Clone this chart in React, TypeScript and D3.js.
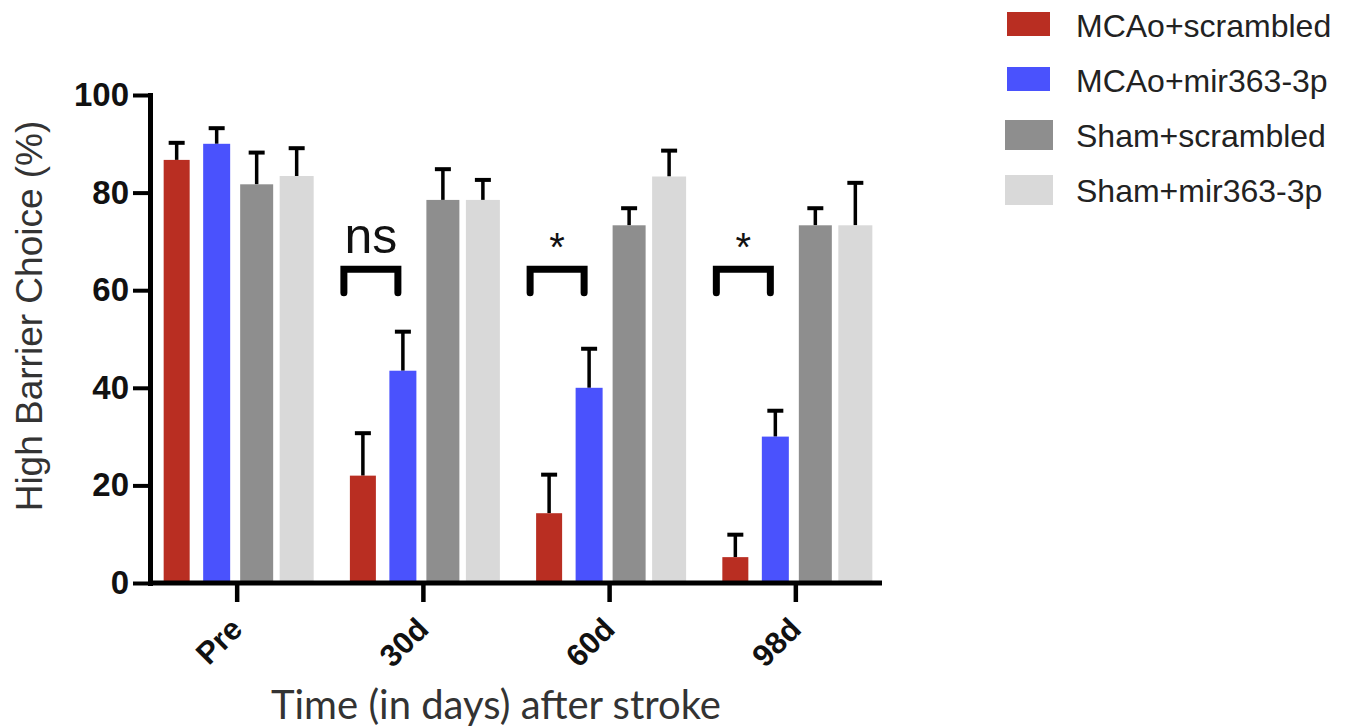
import React, { useEffect, useRef } from "react";
import * as d3 from "d3";

// categories / series
const timepoints = ["Pre", "30d", "60d", "98d"];
const groups = ["MCAo+scrambled", "MCAo+mir363-3p", "Sham+scrambled", "Sham+mir363-3p"];

// means (%) per timepoint
const mcaoScrambled = [86.7, 22.0, 14.3, 5.3];
const mcaoMir = [90.0, 43.5, 40.0, 30.0];
const shamScrambled = [81.7, 78.5, 73.3, 73.3];
const shamMir = [83.4, 78.5, 83.3, 73.3];

// SEM (upper error bar only)
const mcaoScrambledErr = [3.5, 8.7, 7.9, 4.6];
const mcaoMirErr = [3.2, 8.0, 8.0, 5.3];
const shamScrambledErr = [6.5, 6.3, 3.5, 3.5];
const shamMirErr = [5.7, 4.1, 5.3, 8.7];

const yTicks = [0, 20, 40, 60, 80, 100];

// significance brackets between the two MCAo groups
const sigLabels = [
  { at: "30d", label: "ns" },
  { at: "60d", label: "*" },
  { at: "98d", label: "*" },
];
const bracketLevel = 64.3;
const bracketLeg = 4.8;

const colors = ["#b92e22", "#4a52fd", "#8e8e8e", "#d9d9d9"];
const barWidths = [26, 27, 33, 34];
const helv = "Liberation Sans, Arial, sans-serif";

function BarChart() {
  const ref = useRef<SVGSVGElement>(null);

  useEffect(() => {
    const svg = d3.select(ref.current);
    svg.selectAll("*").remove();

    const means = [mcaoScrambled, mcaoMir, shamScrambled, shamMir];
    const errs = [mcaoScrambledErr, mcaoMirErr, shamScrambledErr, shamMirErr];

    const x = d3.scalePoint().domain(timepoints).range([151, 881]).padding(0.46);
    const inner = d3.scaleBand().domain(groups).range([-80, 80]);
    const y = d3.scaleLinear().domain([0, 100]).range([583, 95]);

    const rows = [];
    groups.forEach((g, gi) => {
      timepoints.forEach((t, ti) => {
        rows.push({ g, gi, t, v: means[gi][ti], e: errs[gi][ti] });
      });
    });
    const cx = (d) => x(d.t) + inner(d.g) + inner.bandwidth() / 2;

    // error bars (drawn first so bars cover the stem base)
    const eb = svg.append("g").attr("stroke", "#000").attr("stroke-width", 3.5);
    eb.selectAll("line.stem")
      .data(rows)
      .enter()
      .append("line")
      .attr("x1", cx)
      .attr("x2", cx)
      .attr("y1", (d) => y(d.v))
      .attr("y2", (d) => y(d.v + d.e));
    eb.selectAll("line.cap")
      .data(rows)
      .enter()
      .append("line")
      .attr("stroke-width", 4)
      .attr("x1", (d) => cx(d) - 8)
      .attr("x2", (d) => cx(d) + 8)
      .attr("y1", (d) => y(d.v + d.e))
      .attr("y2", (d) => y(d.v + d.e));

    svg
      .append("g")
      .selectAll("rect")
      .data(rows)
      .enter()
      .append("rect")
      .attr("x", (d) => cx(d) - barWidths[d.gi] / 2)
      .attr("width", (d) => barWidths[d.gi])
      .attr("y", (d) => y(d.v))
      .attr("height", (d) => y(0) - y(d.v))
      .attr("fill", (d) => colors[d.gi]);

    // y axis
    const yAxis = svg
      .append("g")
      .attr("transform", "translate(150,0)")
      .call(d3.axisLeft(y).tickValues(yTicks).tickSize(17).tickPadding(4).tickSizeOuter(0));
    yAxis.select(".domain").attr("stroke-width", 5).attr("stroke-linecap", "square");
    yAxis.selectAll(".tick line").attr("stroke-width", 4);
    yAxis
      .selectAll(".tick text")
      .attr("font-family", helv)
      .attr("font-weight", "bold")
      .attr("font-size", 33)
      .attr("fill", "#111");

    // x axis
    const xAxis = svg
      .append("g")
      .attr("transform", "translate(0,583)")
      .call(d3.axisBottom(x).tickSize(19).tickSizeOuter(0));
    xAxis.select(".domain").attr("d", "M150,0H882").attr("stroke-width", 5);
    xAxis.selectAll(".tick line").attr("stroke-width", 4.5);
    xAxis
      .selectAll(".tick text")
      .attr("font-family", helv)
      .attr("font-weight", "bold")
      .attr("font-size", 31)
      .attr("fill", "#111")
      .attr("text-anchor", "end")
      .attr("dy", 0)
      .attr("x", 0)
      .attr("y", 0)
      .attr("transform", "translate(7,48) rotate(-45)");

    // significance brackets
    const redC = (t) => x(t) + inner(groups[0]) + inner.bandwidth() / 2;
    const blueC = (t) => x(t) + inner(groups[1]) + inner.bandwidth() / 2;
    const bx1 = (t) => redC(t) - 19;
    const bx2 = (t) => blueC(t) - 5;
    const sig = svg.append("g");
    sig
      .selectAll("path")
      .data(sigLabels)
      .enter()
      .append("path")
      .attr("fill", "none")
      .attr("stroke", "#000")
      .attr("stroke-width", 7)
      .attr("stroke-linecap", "round")
      .attr("stroke-linejoin", "miter")
      .attr("d", (d) => {
        const yt = y(bracketLevel);
        const yb = y(bracketLevel - bracketLeg);
        return `M${bx1(d.at)},${yb}V${yt}H${bx2(d.at)}V${yb}`;
      });
    sig
      .selectAll("text")
      .data(sigLabels)
      .enter()
      .append("text")
      .attr("x", (d) => (bx1(d.at) + bx2(d.at)) / 2)
      .attr("y", (d) => (d.label === "ns" ? y(bracketLevel) - 16 : y(bracketLevel) - 8))
      .attr("text-anchor", "middle")
      .attr("font-family", helv)
      .attr("font-size", (d) => (d.label === "ns" ? 50 : 40))
      .attr("fill", "#111")
      .text((d) => d.label);

    // axis titles
    svg
      .append("text")
      .attr("transform", "translate(42,316) rotate(-90)")
      .attr("text-anchor", "middle")
      .attr("font-family", helv)
      .attr("font-size", 37)
      .attr("fill", "#333")
      .text("High Barrier Choice (%)");

    svg
      .append("text")
      .attr("x", 496)
      .attr("y", 719)
      .attr("text-anchor", "middle")
      .attr("font-family", "Lato, Open Sans, sans-serif")
      .attr("font-size", 40)
      .attr("fill", "#333")
      .text("Time (in days) after stroke");

    // legend
    const legend = svg
      .append("g")
      .selectAll("g")
      .data(groups)
      .enter()
      .append("g")
      .attr("transform", (d, i) => `translate(1006, ${26 + i * 55})`);
    legend
      .append("rect")
      .attr("x", (d, i) => (i < 2 ? 1 : -1))
      .attr("y", (d, i) => (i < 2 ? -14 : -16))
      .attr("width", (d, i) => (i < 2 ? 43 : 48))
      .attr("height", (d, i) => (i < 2 ? 24 : 30))
      .attr("fill", (d, i) => colors[i]);
    legend
      .append("text")
      .attr("x", 70)
      .attr("dy", "0.35em")
      .attr("font-family", helv)
      .attr("font-size", 32)
      .attr("fill", "#222")
      .text((d) => d);
  }, []);

  return (
    <svg
      ref={ref}
      width={1353}
      height={728}
      style={{ position: "absolute", left: 0, top: 0, background: "#fff" }}
    />
  );
}

export default function App() {
  return <BarChart />;
}
